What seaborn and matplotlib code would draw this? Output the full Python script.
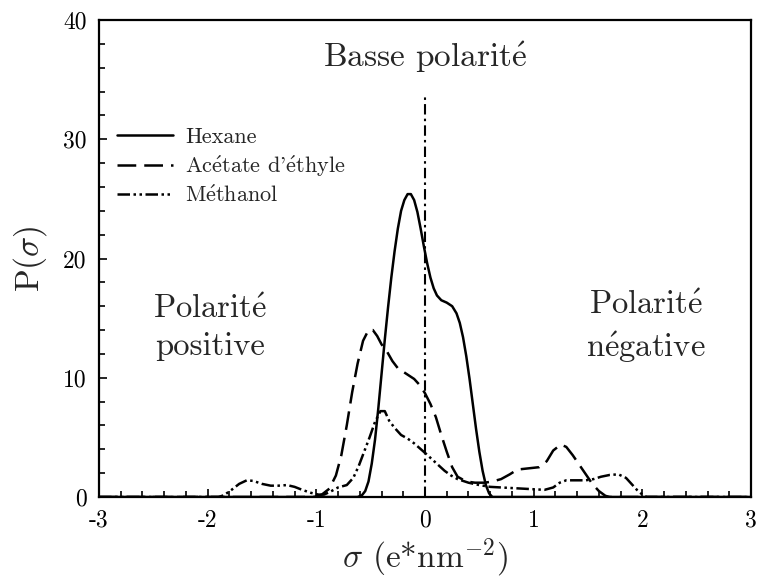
import matplotlib
matplotlib.use("Agg")
import matplotlib.pyplot as plt
import seaborn as sns
from matplotlib.ticker import MultipleLocator

# ---------------- data ----------------
hex_x = [-3.0, -0.62, -0.58, -0.55, -0.52, -0.49, -0.46, -0.43, -0.40, -0.37, -0.34,
         -0.31, -0.28, -0.25, -0.22, -0.19, -0.16, -0.13, -0.10, -0.07, -0.04, -0.01,
         0.02, 0.05, 0.08, 0.11, 0.15, 0.20, 0.25, 0.29, 0.32, 0.35, 0.38, 0.41, 0.44,
         0.47, 0.50, 0.53, 0.56, 0.59, 0.62, 3.0]
hex_y = [0, 0, 0.15, 0.5, 1.3, 2.8, 4.8, 7.4, 10.3, 13.2, 15.9,
         18.4, 20.6, 22.5, 24.0, 24.9, 25.4, 25.4, 24.9, 23.9, 22.5, 21.0,
         19.6, 18.4, 17.5, 16.9, 16.5, 16.3, 16.0, 15.4, 14.6, 13.4, 11.8, 9.9, 7.8,
         5.7, 3.8, 2.2, 1.0, 0.3, 0, 0]

ace_x = [-3.0, -1.02, -0.95, -0.88, -0.82, -0.77, -0.72, -0.67, -0.62, -0.57, -0.52,
         -0.48, -0.44, -0.40, -0.35, -0.30, -0.25, -0.20, -0.15, -0.10, -0.05, 0.0,
         0.05, 0.10, 0.15, 0.20, 0.25, 0.30, 0.38, 0.46, 0.55, 0.62, 0.70, 0.78, 0.85,
         0.95, 1.05, 1.12, 1.18, 1.25, 1.30, 1.36, 1.42, 1.48, 1.54, 1.60, 1.66, 1.70, 3.0]
ace_y = [0, 0, 0.2, 0.7, 1.8, 3.5, 6.0, 8.8, 11.2, 13.1, 14.0,
         14.0, 13.5, 12.8, 12.2, 11.4, 10.8, 10.5, 10.2, 9.9, 9.4, 8.7,
         7.8, 6.7, 5.2, 3.8, 2.5, 1.7, 1.3, 1.2, 1.2, 1.3, 1.5, 1.9, 2.3,
         2.4, 2.5, 3.0, 3.9, 4.4, 4.2, 3.5, 2.7, 1.9, 1.1, 0.5, 0.1, 0, 0]

met_x = [-3.0, -1.90, -1.85, -1.78, -1.71, -1.64, -1.58, -1.50, -1.42, -1.35, -1.27,
         -1.20, -1.13, -1.05, -0.98, -0.93, -0.87, -0.80, -0.72, -0.66, -0.61, -0.56,
         -0.51, -0.46, -0.41, -0.37, -0.33, -0.28, -0.22, -0.16, -0.10, -0.05, 0.0,
         0.06, 0.12, 0.18, 0.24, 0.30, 0.40, 0.50, 0.60, 0.70, 0.80, 0.90, 1.00, 1.10,
         1.18, 1.24, 1.30, 1.40, 1.48, 1.55, 1.62, 1.70, 1.78, 1.85, 1.90, 1.95, 2.00,
         2.04, 3.0]
met_y = [0, 0, 0.15, 0.6, 1.1, 1.4, 1.35, 1.1, 0.95, 0.95, 1.0,
         0.85, 0.6, 0.35, 0.2, 0.2, 0.45, 0.8, 1.0, 1.6, 2.6, 3.8,
         5.0, 6.3, 7.2, 7.2, 6.4, 5.8, 5.2, 4.9, 4.5, 4.1, 3.7,
         3.2, 2.7, 2.2, 1.8, 1.5, 1.2, 1.0, 0.85, 0.8, 0.75, 0.7, 0.65, 0.6,
         0.8, 1.2, 1.4, 1.4, 1.4, 1.5, 1.7, 1.85, 1.9, 1.6, 1.1, 0.6, 0.2,
         0, 0]

vline_x = [0.0, 0.0]
vline_y = [0.0, 33.6]

EACUTE = r"$\acute{\mathrm{e}}$"
series_labels = ["Hexane", "Ac" + EACUTE + "tate d'" + EACUTE + "thyle", "M" + EACUTE + "thanol"]
xtick_vals = [-3, -2, -1, 0, 1, 2, 3]
xtick_labels = ["-3", "-2", "-1", "0", "1", "2", "3"]
ytick_vals = [0, 10, 20, 30, 40]
ytick_labels = ["0", "10", "20", "30", "40"]
annot_center = "Basse polarit" + EACUTE
annot_left = "Polarit" + EACUTE + "\npositive"
annot_right = "Polarit" + EACUTE + "\nn" + EACUTE + "gative"

# ---------------- style ----------------
sns.set_style("white")
plt.rcParams["font.family"] = ["cmr10", "Liberation Serif"]
plt.rcParams["mathtext.fontset"] = "cm"
plt.rcParams["axes.unicode_minus"] = False
plt.rcParams["axes.formatter.use_mathtext"] = True

fig = plt.figure(figsize=(7.58, 5.81), dpi=100)
ax = fig.add_axes([99 / 758, 1 - 497 / 581, 652 / 758, 477 / 581])

LW = 1.8
styles = [None, (7.5, 3.2), (5.0, 1.4, 1.0, 1.4, 1.0, 1.4)]
data = [(hex_x, hex_y), (ace_x, ace_y), (met_x, met_y)]
handles = []
for (xs, ys), lab, ds in zip(data, series_labels, styles):
    sns.lineplot(x=xs, y=ys, ax=ax, color="black", linewidth=LW,
                 estimator=None, sort=False, legend=False)
    ln = ax.lines[-1]
    if ds is not None:
        ln.set_dashes(ds)
    ln.set_label(lab)
    handles.append(ln)

sns.lineplot(x=vline_x, y=vline_y, ax=ax, color="black", linewidth=1.5,
             estimator=None, sort=False, legend=False)
ax.lines[-1].set_dashes((5, 2, 1.2, 2))

ax.set_xlim(-3, 3)
ax.set_ylim(0, 40)
ax.set_xticks(xtick_vals, labels=xtick_labels)
ax.set_yticks(ytick_vals, labels=ytick_labels)
ax.xaxis.set_minor_locator(MultipleLocator(0.2))
ax.yaxis.set_minor_locator(MultipleLocator(2))
ax.tick_params(which="both", direction="in", bottom=True, left=True,
               top=False, right=False, width=1.2, labelsize=17, colors="black")
ax.tick_params(which="major", length=6, pad=9)
ax.tick_params(which="minor", length=4)
for sp in ax.spines.values():
    sp.set_linewidth(1.6)
    sp.set_color("black")
    sp.set_visible(True)

ax.set_xlabel(r"$\sigma$ (e*nm$^{\mathregular{-2}}$)", fontsize=24, labelpad=4)
ax.set_ylabel(r"P($\sigma$)", fontsize=24, labelpad=10)

ax.text(0, 36.9, annot_center, ha="center", va="center", fontsize=24)
ax.text(-1.98, 14.2, annot_left, ha="center", va="center",
        fontsize=23.5, linespacing=1.35)
ax.text(2.03, 14.2, annot_right, ha="center", va="center",
        fontsize=23.5, linespacing=1.35)

ax.legend(handles=handles, labels=series_labels, loc="upper left",
          bbox_to_anchor=(0.027, 0.775), frameon=False, fontsize=16,
          handlelength=2.55, handletextpad=0.55, borderpad=0,
          borderaxespad=0, labelspacing=0.3)

fig.savefig("out.png", dpi=100)
